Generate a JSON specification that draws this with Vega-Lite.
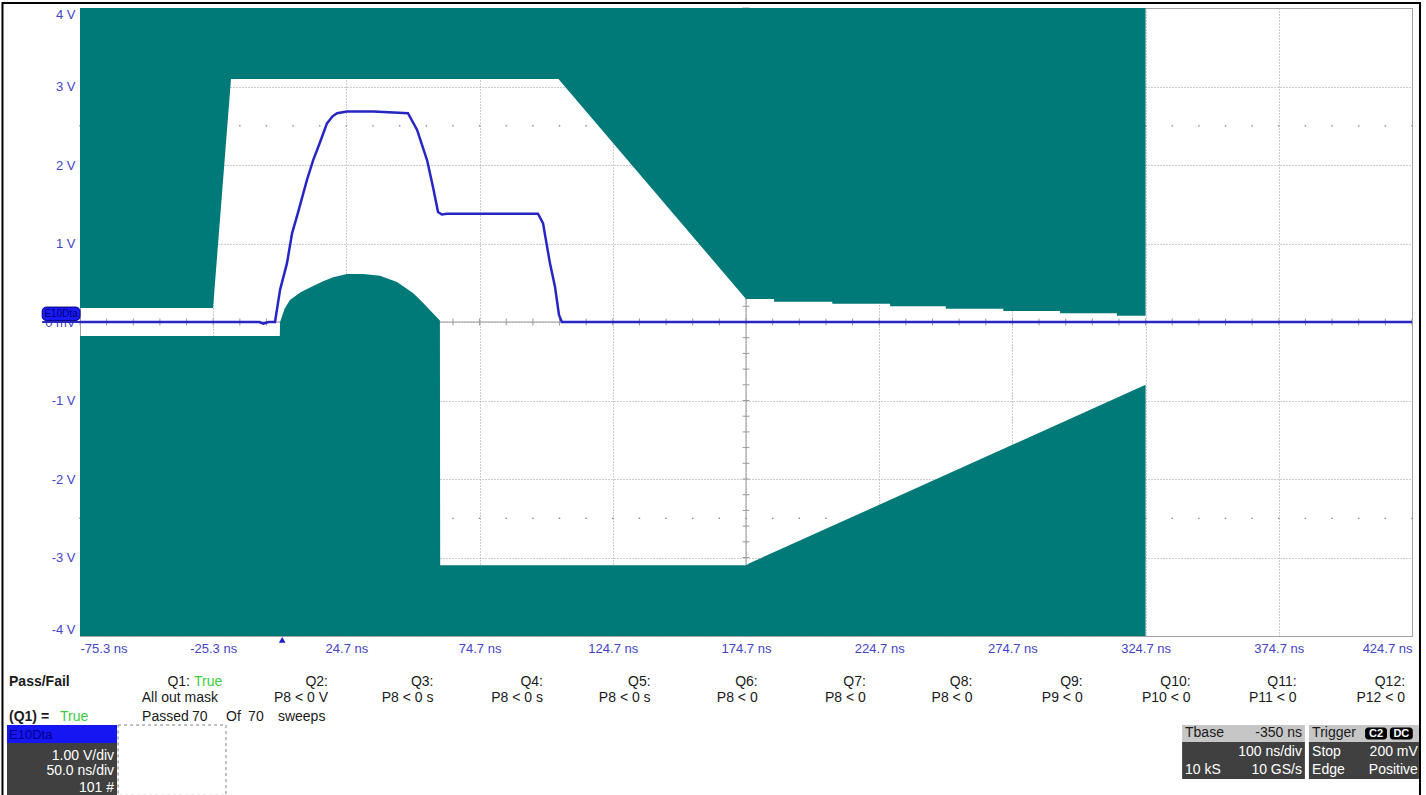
{
  "$schema": "https://vega.github.io/schema/vega-lite/v6.json",
  "width": 1332,
  "height": 628,
  "autosize": {"type": "none"},
  "padding": {"left": 80, "top": 8, "right": 14, "bottom": 159},
  "background": "white",
  "config": {
    "view": {"stroke": "#a6a6a6", "strokeWidth": 1, "fill": "white"},
    "font": "Liberation Sans",
    "text": {"font": "Liberation Sans"}
  },
  "resolve": {"axis": {"x": "independent", "y": "independent"}},
  "data": {"values": [{}]},
  "datasets": {
    "tx": [{"t": -75.3}, {"t": -65.3}, {"t": -55.3}, {"t": -45.3}, {"t": -35.3}, {"t": -25.3}, {"t": -15.3}, {"t": -5.3}, {"t": 4.7}, {"t": 14.7}, {"t": 24.7}, {"t": 34.7}, {"t": 44.7}, {"t": 54.7}, {"t": 64.7}, {"t": 74.7}, {"t": 84.7}, {"t": 94.7}, {"t": 104.7}, {"t": 114.7}, {"t": 124.7}, {"t": 134.7}, {"t": 144.7}, {"t": 154.7}, {"t": 164.7}, {"t": 174.7}, {"t": 184.7}, {"t": 194.7}, {"t": 204.7}, {"t": 214.7}, {"t": 224.7}, {"t": 234.7}, {"t": 244.7}, {"t": 254.7}, {"t": 264.7}, {"t": 274.7}, {"t": 284.7}, {"t": 294.7}, {"t": 304.7}, {"t": 314.7}, {"t": 324.7}, {"t": 334.7}, {"t": 344.7}, {"t": 354.7}, {"t": 364.7}, {"t": 374.7}, {"t": 384.7}, {"t": 394.7}, {"t": 404.7}, {"t": 414.7}, {"t": 424.7}],
    "ty": [{"v": -4}, {"v": -3.8}, {"v": -3.6}, {"v": -3.4}, {"v": -3.2}, {"v": -3}, {"v": -2.8}, {"v": -2.6}, {"v": -2.4}, {"v": -2.2}, {"v": -2}, {"v": -1.8}, {"v": -1.6}, {"v": -1.4}, {"v": -1.2}, {"v": -1}, {"v": -0.8}, {"v": -0.6}, {"v": -0.4}, {"v": -0.2}, {"v": 0}, {"v": 0.2}, {"v": 0.4}, {"v": 0.6}, {"v": 0.8}, {"v": 1}, {"v": 1.2}, {"v": 1.4}, {"v": 1.6}, {"v": 1.8}, {"v": 2}, {"v": 2.2}, {"v": 2.4}, {"v": 2.6}, {"v": 2.8}, {"v": 3}, {"v": 3.2}, {"v": 3.4}, {"v": 3.6}, {"v": 3.8}, {"v": 4}],
    "upper": [{"t": -75.3, "v": 0.178}, {"t": -25.36, "v": 0.178}, {"t": -18.62, "v": 3.096}, {"t": 104.3, "v": 3.096}, {"t": 174.7, "v": 0.293}],
    "upperStep": [{"t": 174.7, "v": 0.293}, {"t": 185.2, "v": 0.259}, {"t": 207.1, "v": 0.233}, {"t": 228.8, "v": 0.2}, {"t": 249.7, "v": 0.169}, {"t": 271.3, "v": 0.14}, {"t": 292.6, "v": 0.111}, {"t": 313.9, "v": 0.08}, {"t": 324.7, "v": 0.08}],
    "lower": [{"t": -75.3, "v": -0.178}, {"t": -0.3, "v": -0.178}, {"t": -0.2, "v": 0.0}, {"t": 1.5, "v": 0.17}, {"t": 3.5, "v": 0.28}, {"t": 7.5, "v": 0.38}, {"t": 12.2, "v": 0.46}, {"t": 16.0, "v": 0.52}, {"t": 19.7, "v": 0.57}, {"t": 24.9, "v": 0.61}, {"t": 31.0, "v": 0.61}, {"t": 37.3, "v": 0.59}, {"t": 43.7, "v": 0.51}, {"t": 49.7, "v": 0.37}, {"t": 53.0, "v": 0.26}, {"t": 56.1, "v": 0.15}, {"t": 59.8, "v": 0.02}, {"t": 59.9, "v": -3.1}, {"t": 174.7, "v": -3.1}, {"t": 176.2, "v": -3.07}, {"t": 324.7, "v": -0.8}],
    "trace": [{"t": -75.3, "v": 0}, {"t": -8.0, "v": 0}, {"t": -6.5, "v": -0.02}, {"t": -4.5, "v": 0}, {"t": -2.1, "v": 0}, {"t": -0.2, "v": 0.41}, {"t": 2.4, "v": 0.75}, {"t": 4.3, "v": 1.13}, {"t": 6.5, "v": 1.39}, {"t": 9.9, "v": 1.81}, {"t": 12.2, "v": 2.06}, {"t": 14.8, "v": 2.29}, {"t": 17.4, "v": 2.53}, {"t": 19.5, "v": 2.62}, {"t": 21.2, "v": 2.66}, {"t": 24.9, "v": 2.68}, {"t": 35.0, "v": 2.68}, {"t": 47.8, "v": 2.66}, {"t": 51.2, "v": 2.45}, {"t": 55.0, "v": 2.06}, {"t": 57.2, "v": 1.72}, {"t": 59.1, "v": 1.4}, {"t": 60.5, "v": 1.37}, {"t": 62.5, "v": 1.38}, {"t": 80.0, "v": 1.38}, {"t": 96.6, "v": 1.38}, {"t": 98.5, "v": 1.26}, {"t": 101.1, "v": 0.75}, {"t": 103.0, "v": 0.45}, {"t": 104.5, "v": 0.09}, {"t": 105.6, "v": 0.0}, {"t": 424.7, "v": 0.0}],
    "darkPanels": [{"t": -102.7, "t2": -61.4, "v": -5.363, "v2": -6.05}, {"t": 338.4, "t2": 384.5, "v": -5.35, "v2": -5.822}, {"t": 386.0, "t2": 427.3, "v": -5.35, "v2": -5.822}],
    "grayHeaders": [{"t": 338.4, "t2": 384.5, "v": -5.134, "v2": -5.35}, {"t": 386.0, "t2": 427.3, "v": -5.134, "v2": -5.35}],
    "badges": [{"t": 407.1, "t2": 415.3, "tm": 411.2, "v": -5.165, "v2": -5.32, "label": "C2"}, {"t": 416.4, "t2": 425.0, "tm": 420.7, "v": -5.165, "v2": -5.32, "label": "DC"}],
    "rightText": [
      {"t": -34.0, "v": -4.586, "label": "Q1:"}, {"t": -23.5, "v": -4.79, "label": "All out mask"},
      {"t": 17.8, "v": -4.586, "label": "Q2:"}, {"t": 17.8, "v": -4.79, "label": "P8 < 0 V"},
      {"t": 57.4, "v": -4.586, "label": "Q3:"}, {"t": 57.4, "v": -4.79, "label": "P8 < 0 s"},
      {"t": 98.5, "v": -4.586, "label": "Q4:"}, {"t": 98.5, "v": -4.79, "label": "P8 < 0 s"},
      {"t": 138.9, "v": -4.586, "label": "Q5:"}, {"t": 138.9, "v": -4.79, "label": "P8 < 0 s"},
      {"t": 179.1, "v": -4.586, "label": "Q6:"}, {"t": 179.1, "v": -4.79, "label": "P8 < 0"},
      {"t": 219.7, "v": -4.586, "label": "Q7:"}, {"t": 219.7, "v": -4.79, "label": "P8 < 0"},
      {"t": 259.7, "v": -4.586, "label": "Q8:"}, {"t": 259.7, "v": -4.79, "label": "P8 < 0"},
      {"t": 301.1, "v": -4.586, "label": "Q9:"}, {"t": 301.1, "v": -4.79, "label": "P9 < 0"},
      {"t": 341.6, "v": -4.586, "label": "Q10:"}, {"t": 341.6, "v": -4.79, "label": "P10 < 0"},
      {"t": 381.4, "v": -4.586, "label": "Q11:"}, {"t": 381.4, "v": -4.79, "label": "P11 < 0"},
      {"t": 422.1, "v": -4.586, "label": "Q12:"}, {"t": 422.1, "v": -4.79, "label": "P12 < 0"},
      {"t": 383.4, "v": -5.242, "label": "-350 ns"}
    ],
    "leftText": [
      {"t": -52.0, "v": -5.032, "label": "Passed"}, {"t": -33.3, "v": -5.032, "label": "70"}, {"t": -20.5, "v": -5.032, "label": "Of"}, {"t": -12.2, "v": -5.032, "label": "70"}, {"t": -1.0, "v": -5.032, "label": "sweeps"},
      {"t": 339.5, "v": -5.242, "label": "Tbase"}, {"t": 387.2, "v": -5.242, "label": "Trigger"}
    ],
    "boldText": [{"t": -101.95, "v": -4.586, "label": "Pass/Fail"}, {"t": -101.95, "v": -5.032, "label": "(Q1) ="}],
    "greenText": [{"t": -32.5, "v": -4.586, "label": "True"}, {"t": -82.8, "v": -5.032, "label": "True"}],
    "whiteRight": [{"t": -62.5, "v": -5.529, "label": "1.00 V/div"}, {"t": -62.5, "v": -5.72, "label": "50.0 ns/div"}, {"t": -62.5, "v": -5.93, "label": "101 #"}, {"t": 383.4, "v": -5.484, "label": "100 ns/div"}, {"t": 383.4, "v": -5.707, "label": "10 GS/s"}, {"t": 426.9, "v": -5.484, "label": "200 mV"}, {"t": 426.9, "v": -5.707, "label": "Positive"}],
    "whiteLeft": [{"t": 339.5, "v": -5.707, "label": "10 kS"}, {"t": 387.2, "v": -5.484, "label": "Stop"}, {"t": 387.2, "v": -5.707, "label": "Edge"}]
  },
  "layer": [
    {
      "data": {"name": "tx"},
      "mark": {"type": "point", "filled": true, "size": 3, "color": "#8c8c8c", "opacity": 1},
      "encoding": {
        "x": {"field": "t", "type": "quantitative", "scale": {"domain": [-75.3, 424.7], "nice": false, "zero": false},
          "axis": {"values": [-75.3, -25.3, 24.7, 74.7, 124.7, 174.7, 224.7, 274.7, 324.7, 374.7, 424.7], "labelExpr": "datum.value + ' ns'", "title": null, "ticks": false, "domain": false, "labelFlush": true, "labelOverlap": false, "labelPadding": 6, "labelFontSize": 13, "labelColor": "#4444c8", "labelFont": "Liberation Sans", "grid": true, "gridColor": "#9c9c9c", "gridDash": [1, 2], "gridWidth": 1}},
        "y": {"datum": 2.5, "type": "quantitative", "scale": {"domain": [-4, 4], "nice": false, "zero": false},
          "axis": {"values": [-4, -3, -2, -1, 0, 1, 2, 3, 4], "labelExpr": "datum.value == 0 ? '0 mV' : datum.value + ' V'", "title": null, "ticks": false, "domain": false, "labelFlush": true, "labelOverlap": false, "labelPadding": 5, "labelFontSize": 13, "labelColor": "#4444c8", "labelFont": "Liberation Sans", "grid": true, "gridColor": "#9c9c9c", "gridDash": [1, 2], "gridWidth": 1}}
      }
    },
    {
      "data": {"name": "tx"},
      "mark": {"type": "point", "filled": true, "size": 3, "color": "#8c8c8c", "opacity": 1},
      "encoding": {
        "x": {"field": "t", "type": "quantitative", "scale": {"domain": [-75.3, 424.7], "nice": false, "zero": false}, "axis": null},
        "y": {"datum": -2.5, "type": "quantitative", "scale": {"domain": [-4, 4], "nice": false, "zero": false}, "axis": null}
      }
    },
    {
      "mark": {"type": "rule", "color": "#9a9a9a", "strokeWidth": 1},
      "encoding": {"y": {"datum": 0, "type": "quantitative", "scale": {"domain": [-4, 4], "nice": false, "zero": false}, "axis": null}}
    },
    {
      "mark": {"type": "rule", "color": "#9a9a9a", "strokeWidth": 1},
      "encoding": {"x": {"datum": 174.7, "type": "quantitative", "scale": {"domain": [-75.3, 424.7], "nice": false, "zero": false}, "axis": null}}
    },
    {
      "data": {"name": "tx"},
      "mark": {"type": "tick", "orient": "vertical", "size": 7, "thickness": 1, "color": "#9a9a9a", "opacity": 1},
      "encoding": {
        "x": {"field": "t", "type": "quantitative", "scale": {"domain": [-75.3, 424.7], "nice": false, "zero": false}, "axis": null},
        "y": {"datum": 0, "type": "quantitative", "scale": {"domain": [-4, 4], "nice": false, "zero": false}, "axis": null}
      }
    },
    {
      "data": {"name": "ty"},
      "mark": {"type": "tick", "orient": "horizontal", "size": 7, "thickness": 1, "color": "#9a9a9a", "opacity": 1},
      "encoding": {
        "x": {"datum": 174.7, "type": "quantitative", "scale": {"domain": [-75.3, 424.7], "nice": false, "zero": false}, "axis": null},
        "y": {"field": "v", "type": "quantitative", "scale": {"domain": [-4, 4], "nice": false, "zero": false}, "axis": null}
      }
    },
    {
      "data": {"name": "upper"},
      "mark": {"type": "area", "color": "#007a78", "opacity": 1, "interpolate": "linear"},
      "encoding": {
        "x": {"field": "t", "type": "quantitative", "scale": {"domain": [-75.3, 424.7], "nice": false, "zero": false}, "axis": null},
        "y": {"field": "v", "type": "quantitative", "scale": {"domain": [-4, 4], "nice": false, "zero": false}, "axis": null},
        "y2": {"datum": 4}
      }
    },
    {
      "data": {"name": "upperStep"},
      "mark": {"type": "area", "color": "#007a78", "opacity": 1, "interpolate": "step-after"},
      "encoding": {
        "x": {"field": "t", "type": "quantitative", "scale": {"domain": [-75.3, 424.7], "nice": false, "zero": false}, "axis": null},
        "y": {"field": "v", "type": "quantitative", "scale": {"domain": [-4, 4], "nice": false, "zero": false}, "axis": null},
        "y2": {"datum": 4}
      }
    },
    {
      "data": {"name": "lower"},
      "mark": {"type": "area", "color": "#007a78", "opacity": 1, "interpolate": "linear"},
      "encoding": {
        "x": {"field": "t", "type": "quantitative", "scale": {"domain": [-75.3, 424.7], "nice": false, "zero": false}, "axis": null},
        "y": {"field": "v", "type": "quantitative", "scale": {"domain": [-4, 4], "nice": false, "zero": false}, "axis": null},
        "y2": {"datum": -4}
      }
    },
    {
      "data": {"name": "trace"},
      "mark": {"type": "line", "color": "#2626c4", "strokeWidth": 2.5, "interpolate": "linear"},
      "encoding": {
        "x": {"field": "t", "type": "quantitative", "scale": {"domain": [-75.3, 424.7], "nice": false, "zero": false}, "axis": null},
        "y": {"field": "v", "type": "quantitative", "scale": {"domain": [-4, 4], "nice": false, "zero": false}, "axis": null}
      }
    },
    {
      "mark": {"type": "rule", "color": "#2626c4", "strokeWidth": 2},
      "encoding": {
        "x": {"datum": -89.5, "type": "quantitative", "scale": {"domain": [-75.3, 424.7], "nice": false, "zero": false}, "axis": null},
        "x2": {"datum": -75.3},
        "y": {"datum": 0, "type": "quantitative", "scale": {"domain": [-4, 4], "nice": false, "zero": false}, "axis": null}
      }
    },
    {
      "mark": {"type": "rect", "fill": "#1a1aff", "stroke": "#00007a", "strokeWidth": 1, "cornerRadius": 4},
      "encoding": {
        "x": {"datum": -89.5, "type": "quantitative", "scale": {"domain": [-75.3, 424.7], "nice": false, "zero": false}, "axis": null},
        "x2": {"datum": -75.3},
        "y": {"datum": 0.02, "type": "quantitative", "scale": {"domain": [-4, 4], "nice": false, "zero": false}, "axis": null},
        "y2": {"datum": 0.19}
      }
    },
    {
      "mark": {"type": "text", "text": "E10Dta", "fontSize": 10, "color": "#00006a", "align": "center", "baseline": "middle"},
      "encoding": {
        "x": {"datum": -82.4, "type": "quantitative", "scale": {"domain": [-75.3, 424.7], "nice": false, "zero": false}, "axis": null},
        "y": {"datum": 0.1, "type": "quantitative", "scale": {"domain": [-4, 4], "nice": false, "zero": false}, "axis": null}
      }
    },
    {
      "mark": {"type": "point", "shape": "triangle-up", "filled": true, "size": 45, "color": "#1a1ad0", "opacity": 1},
      "encoding": {
        "x": {"datum": 0.6, "type": "quantitative", "scale": {"domain": [-75.3, 424.7], "nice": false, "zero": false}, "axis": null},
        "y": {"datum": -4.05, "type": "quantitative", "scale": {"domain": [-4, 4], "nice": false, "zero": false}, "axis": null}
      }
    },
    {
      "data": {"name": "darkPanels"},
      "mark": {"type": "rect", "fill": "#404040"},
      "encoding": {
        "x": {"field": "t", "type": "quantitative", "scale": {"domain": [-75.3, 424.7], "nice": false, "zero": false}, "axis": null},
        "x2": {"field": "t2"},
        "y": {"field": "v", "type": "quantitative", "scale": {"domain": [-4, 4], "nice": false, "zero": false}, "axis": null},
        "y2": {"field": "v2"}
      }
    },
    {
      "data": {"name": "grayHeaders"},
      "mark": {"type": "rect", "fill": "#c6c6c6"},
      "encoding": {
        "x": {"field": "t", "type": "quantitative", "scale": {"domain": [-75.3, 424.7], "nice": false, "zero": false}, "axis": null},
        "x2": {"field": "t2"},
        "y": {"field": "v", "type": "quantitative", "scale": {"domain": [-4, 4], "nice": false, "zero": false}, "axis": null},
        "y2": {"field": "v2"}
      }
    },
    {
      "mark": {"type": "rect", "fill": "#1616f2"},
      "encoding": {
        "x": {"datum": -102.7, "type": "quantitative", "scale": {"domain": [-75.3, 424.7], "nice": false, "zero": false}, "axis": null},
        "x2": {"datum": -61.4},
        "y": {"datum": -5.134, "type": "quantitative", "scale": {"domain": [-4, 4], "nice": false, "zero": false}, "axis": null},
        "y2": {"datum": -5.363}
      }
    },
    {
      "mark": {"type": "text", "text": "E10Dta", "fontSize": 13, "color": "#00008a", "align": "left", "baseline": "middle"},
      "encoding": {
        "x": {"datum": -101.95, "type": "quantitative", "scale": {"domain": [-75.3, 424.7], "nice": false, "zero": false}, "axis": null},
        "y": {"datum": -5.255, "type": "quantitative", "scale": {"domain": [-4, 4], "nice": false, "zero": false}, "axis": null}
      }
    },
    {
      "mark": {"type": "rect", "fill": "transparent", "stroke": "#808080", "strokeWidth": 1, "strokeDash": [3, 3]},
      "encoding": {
        "x": {"datum": -61.0, "type": "quantitative", "scale": {"domain": [-75.3, 424.7], "nice": false, "zero": false}, "axis": null},
        "x2": {"datum": -20.5},
        "y": {"datum": -5.134, "type": "quantitative", "scale": {"domain": [-4, 4], "nice": false, "zero": false}, "axis": null},
        "y2": {"datum": -6.03}
      }
    },
    {
      "data": {"name": "badges"},
      "mark": {"type": "rect", "fill": "#000000", "cornerRadius": 3},
      "encoding": {
        "x": {"field": "t", "type": "quantitative", "scale": {"domain": [-75.3, 424.7], "nice": false, "zero": false}, "axis": null},
        "x2": {"field": "t2"},
        "y": {"field": "v", "type": "quantitative", "scale": {"domain": [-4, 4], "nice": false, "zero": false}, "axis": null},
        "y2": {"field": "v2"}
      }
    },
    {
      "data": {"name": "badges"},
      "mark": {"type": "text", "fontSize": 11, "fontWeight": "bold", "color": "#ffffff", "align": "center", "baseline": "middle"},
      "encoding": {
        "x": {"field": "tm", "type": "quantitative", "scale": {"domain": [-75.3, 424.7], "nice": false, "zero": false}, "axis": null},
        "y": {"datum": -5.245, "type": "quantitative", "scale": {"domain": [-4, 4], "nice": false, "zero": false}, "axis": null},
        "text": {"field": "label"}
      }
    },
    {
      "data": {"name": "rightText"},
      "mark": {"type": "text", "fontSize": 14, "color": "#1a1a1a", "align": "right", "baseline": "middle"},
      "encoding": {
        "x": {"field": "t", "type": "quantitative", "scale": {"domain": [-75.3, 424.7], "nice": false, "zero": false}, "axis": null},
        "y": {"field": "v", "type": "quantitative", "scale": {"domain": [-4, 4], "nice": false, "zero": false}, "axis": null},
        "text": {"field": "label"}
      }
    },
    {
      "data": {"name": "leftText"},
      "mark": {"type": "text", "fontSize": 14, "color": "#1a1a1a", "align": "left", "baseline": "middle"},
      "encoding": {
        "x": {"field": "t", "type": "quantitative", "scale": {"domain": [-75.3, 424.7], "nice": false, "zero": false}, "axis": null},
        "y": {"field": "v", "type": "quantitative", "scale": {"domain": [-4, 4], "nice": false, "zero": false}, "axis": null},
        "text": {"field": "label"}
      }
    },
    {
      "data": {"name": "boldText"},
      "mark": {"type": "text", "fontSize": 14, "fontWeight": "bold", "color": "#1a1a1a", "align": "left", "baseline": "middle"},
      "encoding": {
        "x": {"field": "t", "type": "quantitative", "scale": {"domain": [-75.3, 424.7], "nice": false, "zero": false}, "axis": null},
        "y": {"field": "v", "type": "quantitative", "scale": {"domain": [-4, 4], "nice": false, "zero": false}, "axis": null},
        "text": {"field": "label"}
      }
    },
    {
      "data": {"name": "greenText"},
      "mark": {"type": "text", "fontSize": 14, "color": "#3ccc3c", "align": "left", "baseline": "middle"},
      "encoding": {
        "x": {"field": "t", "type": "quantitative", "scale": {"domain": [-75.3, 424.7], "nice": false, "zero": false}, "axis": null},
        "y": {"field": "v", "type": "quantitative", "scale": {"domain": [-4, 4], "nice": false, "zero": false}, "axis": null},
        "text": {"field": "label"}
      }
    },
    {
      "data": {"name": "whiteRight"},
      "mark": {"type": "text", "fontSize": 14, "color": "#ffffff", "align": "right", "baseline": "middle"},
      "encoding": {
        "x": {"field": "t", "type": "quantitative", "scale": {"domain": [-75.3, 424.7], "nice": false, "zero": false}, "axis": null},
        "y": {"field": "v", "type": "quantitative", "scale": {"domain": [-4, 4], "nice": false, "zero": false}, "axis": null},
        "text": {"field": "label"}
      }
    },
    {
      "data": {"name": "whiteLeft"},
      "mark": {"type": "text", "fontSize": 14, "color": "#ffffff", "align": "left", "baseline": "middle"},
      "encoding": {
        "x": {"field": "t", "type": "quantitative", "scale": {"domain": [-75.3, 424.7], "nice": false, "zero": false}, "axis": null},
        "y": {"field": "v", "type": "quantitative", "scale": {"domain": [-4, 4], "nice": false, "zero": false}, "axis": null},
        "text": {"field": "label"}
      }
    },
    {
      "mark": {"type": "rect", "fill": "transparent", "stroke": "#000000", "strokeWidth": 2},
      "encoding": {
        "x": {"datum": -104.4, "type": "quantitative", "scale": {"domain": [-75.3, 424.7], "nice": false, "zero": false}, "axis": null},
        "x2": {"datum": 427.7},
        "y": {"datum": 4.064, "type": "quantitative", "scale": {"domain": [-4, 4], "nice": false, "zero": false}, "axis": null},
        "y2": {"datum": -6.1}
      }
    }
  ]
}
